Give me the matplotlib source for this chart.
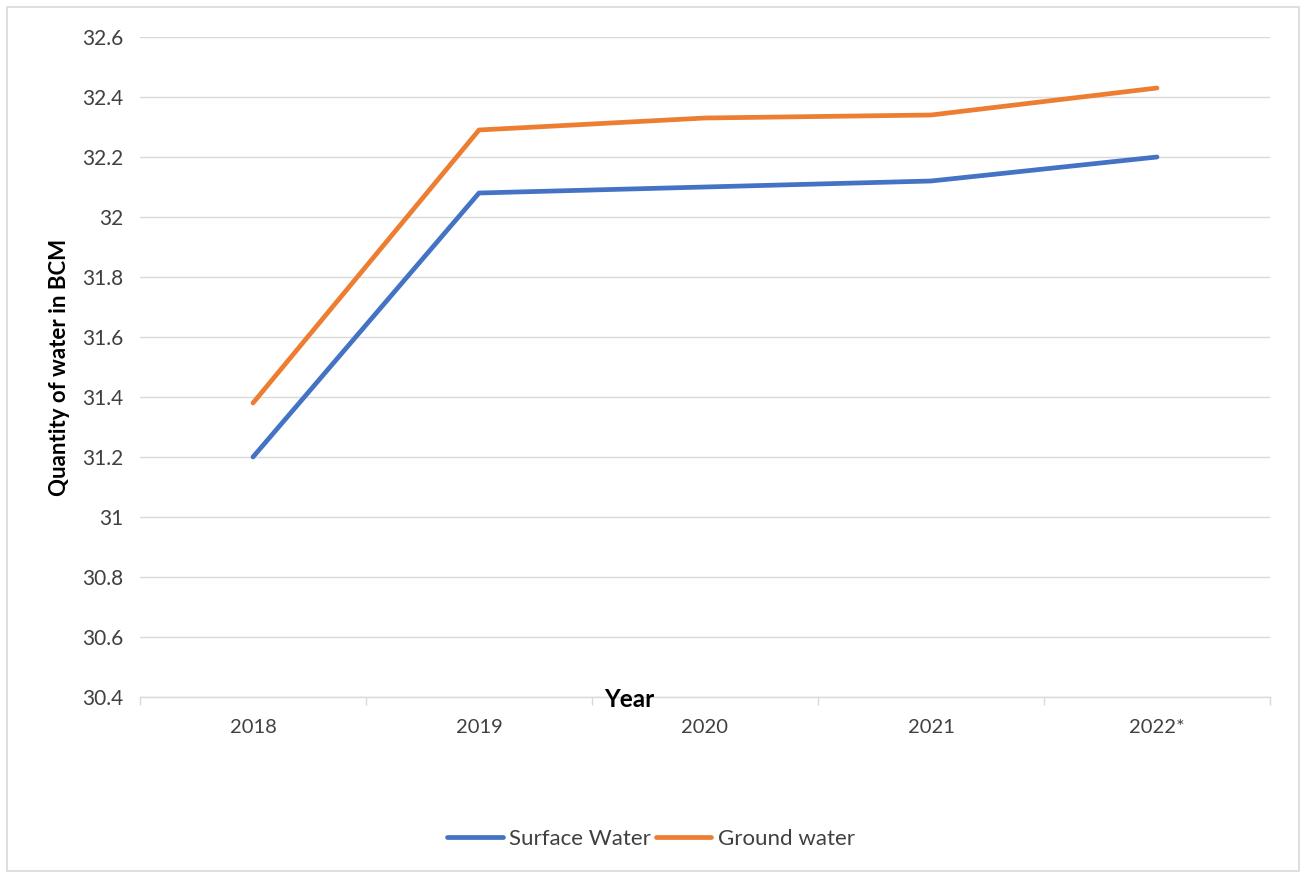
import matplotlib
matplotlib.use("Agg")
import matplotlib.pyplot as plt
from matplotlib.patches import Rectangle
from matplotlib.ticker import FuncFormatter, FixedLocator

years = ["2018", "2019", "2020", "2021", "2022*"]
surface_water = [31.20, 32.08, 32.10, 32.12, 32.20]
ground_water = [31.38, 32.29, 32.33, 32.34, 32.43]
y_ticks = [30.4, 30.6, 30.8, 31.0, 31.2, 31.4, 31.6, 31.8, 32.0, 32.2, 32.4, 32.6]

plt.rcParams["font.family"] = ["Lato", "DejaVu Sans"]
text_color = "#404040"

fig = plt.figure(figsize=(13.01, 8.72), dpi=100)
ax = fig.add_axes([140 / 1301, 1 - 697 / 872, 1130 / 1301, 660 / 872])

# outer chart border
fig.patches.append(Rectangle((7 / 1301, 1 / 872), 1292 / 1301, 864 / 872,
                             transform=fig.transFigure, fill=False,
                             edgecolor="#D9D9D9", linewidth=1.2))

x = list(range(len(years)))
ax.plot(x, surface_water, color="#4472C4", linewidth=3.4, label="Surface Water",
        solid_capstyle="round")
ax.plot(x, ground_water, color="#ED7D31", linewidth=3.4, label="Ground water",
        solid_capstyle="round")

ax.set_xlim(-0.5, len(years) - 0.5)
ax.set_ylim(30.4, 32.6)
ax.set_yticks(y_ticks)
ax.yaxis.set_major_formatter(FuncFormatter(lambda v, p: f"{v:g}"))
ax.set_xticks(x)
ax.set_xticklabels(years)
ax.xaxis.set_minor_locator(FixedLocator([i - 0.5 for i in range(len(years) + 1)]))

ax.grid(axis="y", color="#D9D9D9", linewidth=1.0)
ax.set_axisbelow(True)
for side in ("top", "right", "left"):
    ax.spines[side].set_visible(False)
ax.spines["bottom"].set_color("#D9D9D9")
ax.spines["bottom"].set_linewidth(1.0)

ax.tick_params(axis="y", length=0, pad=12, labelsize=15, labelcolor=text_color)
ax.tick_params(axis="x", which="major", length=0, pad=16, labelsize=14.5,
               labelcolor=text_color)
ax.tick_params(axis="x", which="minor", length=6, color="#D9D9D9", width=1.0)

ax.set_ylabel("Quantity of water in BCM", fontsize=16, fontweight="bold",
              color="black", labelpad=9)
fig.text(629 / 1301, 1 - 699 / 872, "Year", ha="center", va="center",
         fontsize=17.5, fontweight="bold", color="black")

fig.legend(loc="center", bbox_to_anchor=(651 / 1301, 1 - 839 / 872), ncol=2,
           frameon=False, fontsize=16, handlelength=2.5, columnspacing=0.2,
           handletextpad=0.3, labelcolor=text_color)

fig.savefig("out.png", dpi=100)
